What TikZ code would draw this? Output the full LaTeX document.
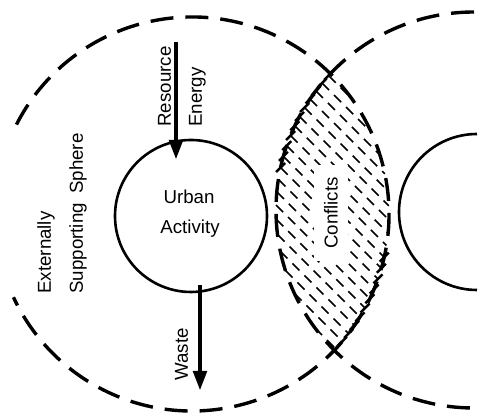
\documentclass[tikz,border=0pt]{standalone}
\usepackage{fontspec}
\setmainfont{Liberation Sans}
\usetikzlibrary{arrows.meta}
\begin{document}
\begin{tikzpicture}[x=0.5pt,y=-0.5pt,
  bigdash/.style={line width=1.7pt, dash pattern=on 11.5pt off 6pt},
  solidc/.style={line width=1.3pt},
  flow/.style={line width=2.4pt, -{Triangle[length=10pt,width=6.5pt]}},
  hatch/.style={line width=0.85pt, dash pattern=on 5pt off 3.5pt},
  barline/.style={line width=1.2pt},
  lbl/.style={font=\fontsize{9.35}{11}\selectfont, inner sep=0pt}]
\useasboundingbox (0,0) rectangle (484,416);
\begin{scope}
\clip (0,0) rectangle (484,416);
% hatching of the conflict lens
\foreach \k in {0,...,19}{
  \pgfmathsetmacro\C{-2.53+0.14*\k}
  \pgfmathsetmacro\BL{\C-2.14-1.92}
  \pgfmathsetmacro\KL{1.92*1.92+(\C-2.14)*(\C-2.14)-1.97*1.97}
  \pgfmathsetmacro\DL{sqrt(max(\BL*\BL-2*\KL,0))}
  \pgfmathsetmacro\BR{\C-2.10-4.74}
  \pgfmathsetmacro\KR{4.74*4.74+(\C-2.10)*(\C-2.10)-1.98*1.98}
  \pgfmathsetmacro\DR{sqrt(max(\BR*\BR-2*\KR,0))}
  \pgfmathsetmacro\xs{max((-1*(\BL)-\DL)/2,(-1*(\BR)-\DR)/2)}
  \pgfmathsetmacro\xe{min((-1*(\BL)+\DL)/2,(-1*(\BR)+\DR)/2)}
  \pgfmathsetmacro\ys{\xs+(\C)}
  \pgfmathsetmacro\ye{\xe+(\C)}
  \pgfmathtruncatemacro\ok{(\xe-\xs)>0.04}
  \ifnum\ok=1
    \draw[hatch] (100*\xs,100*\ys) -- (100*\xe,100*\ye);
    \pgfmathtruncatemacro\sb{\ys<1.78}
    \ifnum\sb=1 \draw[barline] (100*\xs-4.5,100*\ys+4.5) -- (100*\xs+4.5,100*\ys-4.5);\fi
    \pgfmathtruncatemacro\eb{\ye>2.52}
    \ifnum\eb=1 \draw[barline] (100*\xe-4.5,100*\ye+4.5) -- (100*\xe+4.5,100*\ye-4.5);\fi
  \fi
}
% spheres
\coordinate (lc) at (192,214);
\draw[bigdash] (lc) ++(153:98.5pt) arc[start angle=153, end angle=-155, radius=98.5pt];
\coordinate (rc) at (474,210);
\draw[bigdash] (rc) ++(90:99pt) arc[start angle=90, end angle=270, radius=99pt];
\coordinate (sc) at (477,212);
\draw[solidc] (sc) ++(90:39pt) arc[start angle=90, end angle=270, radius=39pt];
\end{scope}
% urban activity circle
\node[circle, draw, solidc, minimum size=76pt, inner sep=0pt] (urban) at (191,216) {};
\node[lbl, anchor=base] (urbanT) at (189,204) {Urban};
\node[lbl, anchor=base] (actT) at (190,234) {Activity};
% flows
\coordinate (resTop) at (176,42);
\coordinate (resTip) at (176,160);
\draw[flow] (resTop) -- (resTip);
\coordinate (wasTop) at (200,285);
\coordinate (wasTip) at (200,391);
\draw[flow] (wasTop) -- (wasTip);
% labels
\node[lbl, rotate=90, anchor=base west] (resT) at (171,127) {Resource};
\node[lbl, rotate=90, anchor=base west] (enT) at (202,127) {Energy};
\node[lbl, rotate=90, anchor=base west] (wasteT) at (188,381) {Waste};
\node[lbl, rotate=90, anchor=base west] (extT) at (51,294) {Externally};
\node[lbl, rotate=90, anchor=base west] (supT) at (83,294) {Supporting\hspace{0.5em}Sphere};
\node[lbl, rotate=90, fill=white, inner xsep=6pt, inner ysep=5pt] (confT) at (331,213) {Conflicts};
\end{tikzpicture}
\end{document}
